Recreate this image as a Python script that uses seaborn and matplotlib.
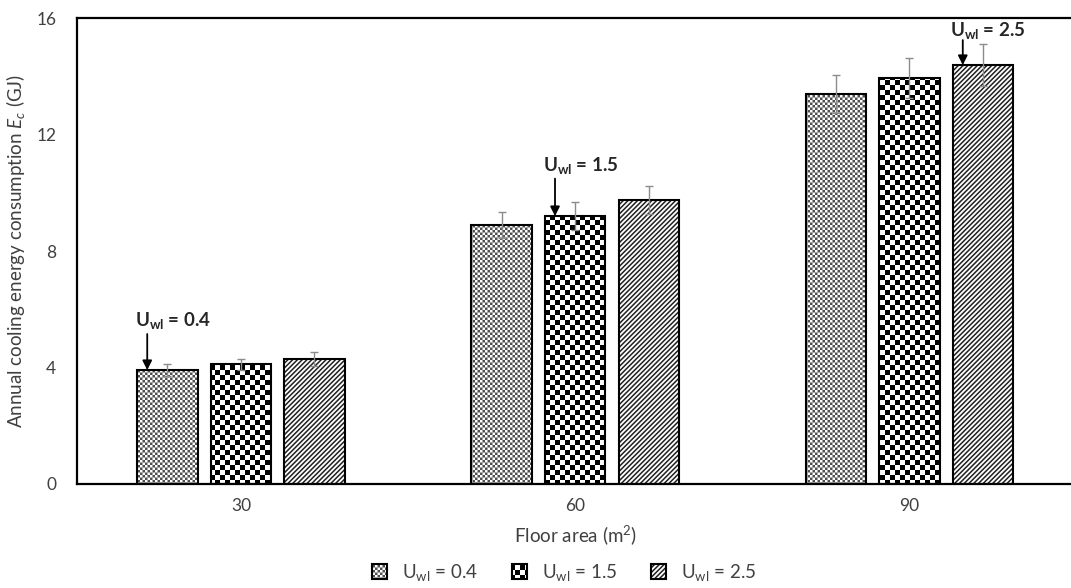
import warnings
import matplotlib
matplotlib.use("Agg")
import matplotlib.pyplot as plt
import matplotlib.hatch as mhatch
from matplotlib.colors import to_rgba
from matplotlib.path import Path
import seaborn as sns
import numpy as np
import pandas as pd

warnings.filterwarnings("ignore")

# 데이터
floor_area = ["30", "60", "90"]
u_values = ["0.4", "1.5", "2.5"]
energy_u04 = [3.91, 8.89, 13.39]
energy_u15 = [4.11, 9.20, 13.94]
energy_u25 = [4.28, 9.75, 14.39]
err_u04 = [0.21, 0.45, 0.65]
err_u15 = [0.19, 0.49, 0.69]
err_u25 = [0.24, 0.49, 0.72]

HATCH_LW = 1.1
DPI = 100


class Checker(mhatch.HatchPatternBase):
    """체커보드 해치 (사용자 정의 문자)"""
    char = "k"
    cells = 20

    def __init__(self, hatch, density):
        self.n = self.cells if self.char in hatch else 0
        self.num_vertices = (self.n * self.n // 2) * 5

    def set_vertices_and_codes(self, vertices, codes):
        s = 1.0 / self.n
        inset = HATCH_LW * DPI / 72 / DPI / 2
        k = 0
        for r in range(self.n):
            for c in range(self.n):
                if (r + c) % 2:
                    continue
                x0, y0 = c * s + inset, r * s + inset
                x1, y1 = (c + 1) * s - inset, (r + 1) * s - inset
                vertices[k:k + 5] = [(x0, y0), (x1, y0), (x1, y1), (x0, y1), (x0, y0)]
                codes[k:k + 5] = [Path.MOVETO, Path.LINETO, Path.LINETO,
                                  Path.LINETO, Path.CLOSEPOLY]
                k += 5


class FineChecker(Checker):
    char = "q"
    cells = 40


mhatch._hatch_types.extend([Checker, FineChecker])

sns.set_style("white")
plt.rcParams["font.family"] = ["Lato", "DejaVu Sans"]
plt.rcParams["mathtext.fontset"] = "custom"
plt.rcParams["mathtext.rm"] = "Lato"
plt.rcParams["mathtext.it"] = "Lato:italic"
plt.rcParams["mathtext.bf"] = "Lato:bold"
plt.rcParams["hatch.linewidth"] = HATCH_LW

labels = [r"U$_{\mathrm{wl}}$ = " + u for u in u_values]
df = pd.DataFrame({
    "area": floor_area * 3,
    "U": np.repeat(labels, 3),
    "E": energy_u04 + energy_u15 + energy_u25,
    "err": err_u04 + err_u15 + err_u25,
})

fig = plt.figure(figsize=(10.71, 5.88), dpi=DPI)
ax = fig.add_axes([0.072, 0.177, 0.93, 0.792])

sns.barplot(data=df, x="area", y="E", hue="U", palette=["white"] * 3,
            edgecolor="black", linewidth=1.5, width=0.66, gap=0.18,
            errorbar=None, legend=False, ax=ax)
bars = list(ax.containers)

hatches = ["q", "k", "///////"]
hatch_colors = ["#505050", "black", "#202020"]
for cont, h, hc in zip(bars, hatches, hatch_colors):
    for p in cont.patches:
        p.set_hatch(h)
        p.set_edgecolor("black")
        p._hatch_color = to_rgba(hc)

# 오차 막대
for cont, (_, grp) in zip(bars, df.groupby("U", sort=False)):
    xs = [p.get_x() + p.get_width() / 2 for p in cont.patches]
    ax.errorbar(xs, grp["E"].values, yerr=grp["err"].values, fmt="none",
                ecolor="#8c8c8c", elinewidth=1, capsize=3, capthick=1, zorder=4)

# 화살표 주석
arrow_len = [26, 27, 18]
text_gap = [9.5, 9.5, 7]
for g, (cont, u) in enumerate(zip(bars, u_values)):
    p = cont.patches[g]
    x = p.get_x() + 0.03
    y = p.get_height()
    ax.annotate("", xy=(x, y), xytext=(0, arrow_len[g]), textcoords="offset points",
                xycoords="data",
                arrowprops=dict(arrowstyle="-|>", color="black", lw=1.3,
                                mutation_scale=14, shrinkA=0, shrinkB=0))
    ax.annotate(r"$\mathbf{U_{wl}}$ = " + u, xy=(x, y),
                xytext=(-9, arrow_len[g] + text_gap[g]), textcoords="offset points",
                ha="left", va="center", fontsize=13.5, fontweight="bold")

ax.set_ylim(0, 16)
ax.set_yticks([0, 4, 8, 12, 16])
ax.set_xlim(-0.49, 2.49)
for s in ["left", "top", "bottom"]:
    ax.spines[s].set_linewidth(1.6)
    ax.spines[s].set_color("black")
ax.spines["right"].set_visible(False)
ax.tick_params(axis="y", length=0, pad=15, labelsize=12.5, labelcolor="#404040")
ax.tick_params(axis="x", length=0, pad=10, labelsize=12.5, labelcolor="#404040")
ax.set_xlabel("Floor area (m$^2$)", fontsize=13.5, color="#404040", labelpad=7)
ax.set_ylabel("Annual cooling energy consumption $E_c$ (GJ)", fontsize=13.5,
              color="#404040", labelpad=7)

handles = [c.patches[0] for c in bars]
fig.legend(handles=handles, labels=labels, loc="lower center", ncol=3,
           bbox_to_anchor=(0.527, -0.02), frameon=False, fontsize=13.5,
           handlelength=0.8, handleheight=0.8, columnspacing=1.8,
           handletextpad=0.8, labelcolor="#404040")

fig.savefig("out.png", dpi=DPI)
